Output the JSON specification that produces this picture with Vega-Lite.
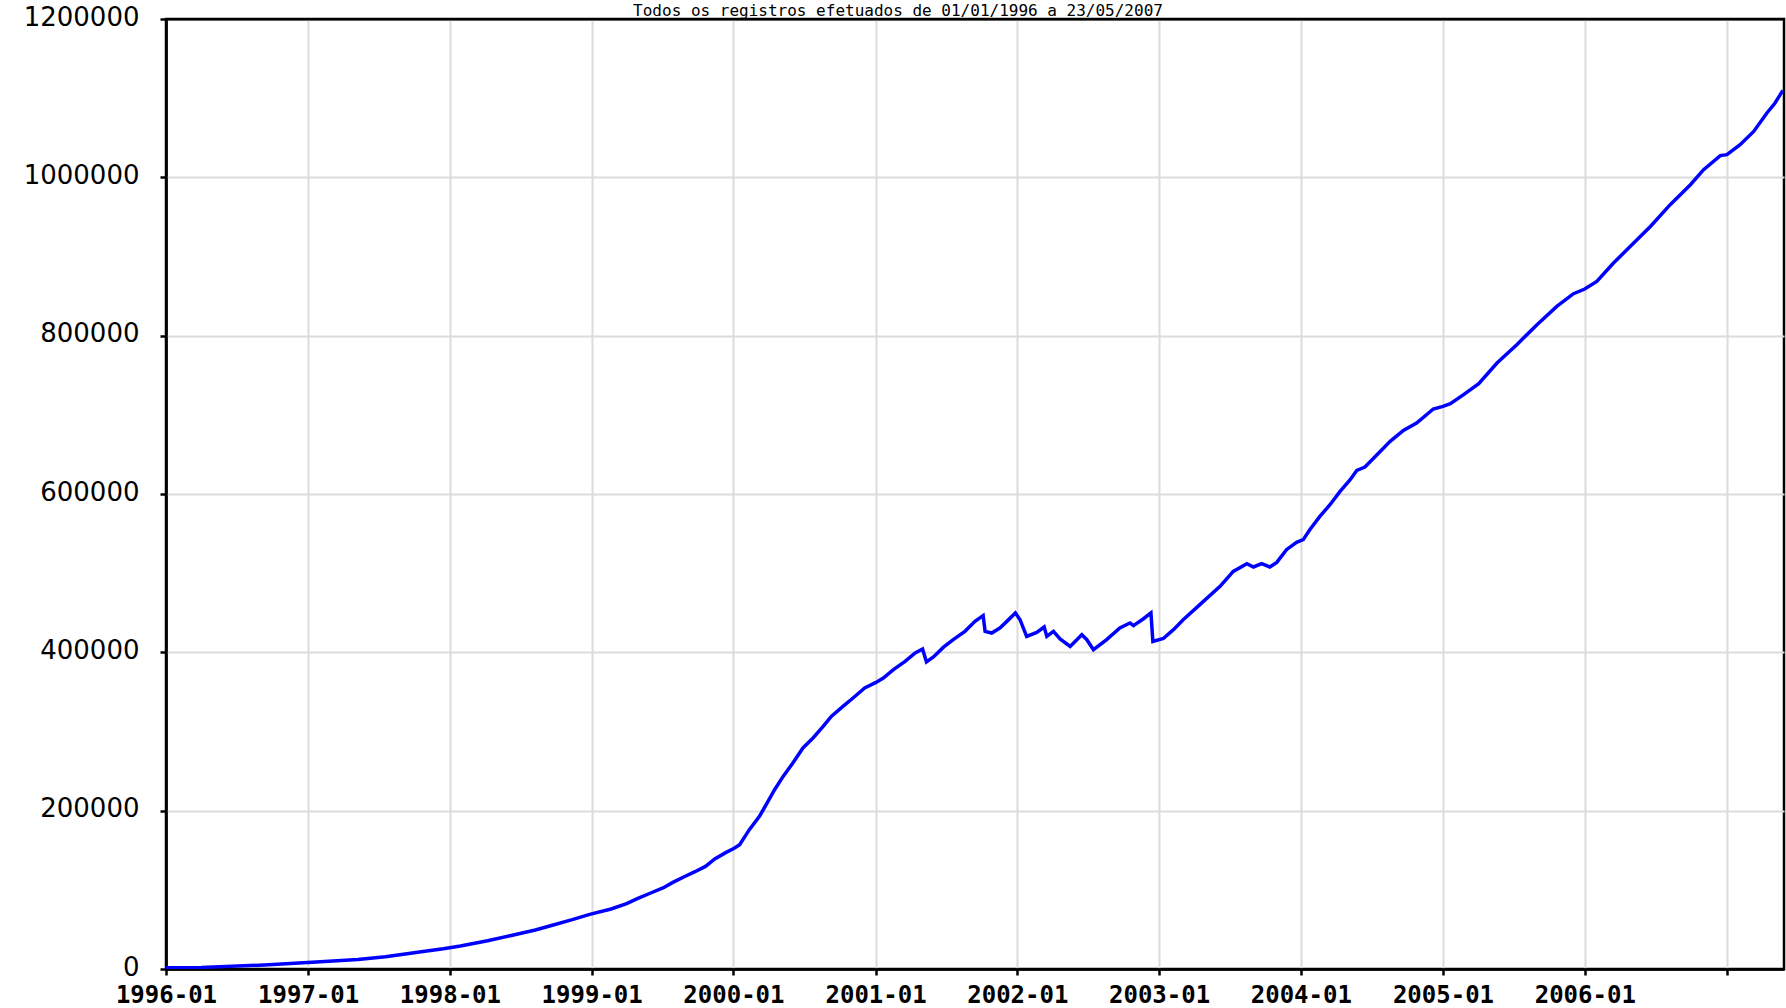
{
  "$schema": "https://vega.github.io/schema/vega-lite/v6.json",
  "width": 1618,
  "height": 950,
  "autosize": {"type": "none"},
  "padding": {"left": 166, "top": 19, "right": 2, "bottom": 39},
  "background": "white",
  "title": {
    "text": "Todos os registros efetuados de 01/01/1996 a 23/05/2007",
    "font": "DejaVu Sans Mono",
    "fontSize": 16,
    "fontWeight": "normal",
    "color": "black",
    "offset": -15,
    "frame": "group",
    "dx": -77,
    "anchor": "middle"
  },
  "config": {"view": {"stroke": "black", "strokeWidth": 2.5}},
  "data": {
    "values": [
      {"d": "1996-01-01", "v": 1500},
      {"d": "1996-04-01", "v": 2000},
      {"d": "1996-09-10", "v": 5000},
      {"d": "1997-01-22", "v": 8800},
      {"d": "1997-05-09", "v": 12100},
      {"d": "1997-07-19", "v": 15500},
      {"d": "1997-09-08", "v": 19000},
      {"d": "1997-10-24", "v": 22200},
      {"d": "1997-12-15", "v": 25600},
      {"d": "1998-01-28", "v": 29000},
      {"d": "1998-04-08", "v": 35700},
      {"d": "1998-06-08", "v": 42400},
      {"d": "1998-08-09", "v": 49300},
      {"d": "1998-09-24", "v": 55600},
      {"d": "1998-11-12", "v": 62300},
      {"d": "1998-12-27", "v": 69000},
      {"d": "1999-02-20", "v": 75800},
      {"d": "1999-04-01", "v": 82500},
      {"d": "1999-04-30", "v": 89200},
      {"d": "1999-06-02", "v": 96000},
      {"d": "1999-07-05", "v": 102700},
      {"d": "1999-07-29", "v": 109400},
      {"d": "1999-08-26", "v": 116200},
      {"d": "1999-09-24", "v": 122900},
      {"d": "1999-10-21", "v": 129600},
      {"d": "1999-11-14", "v": 139000},
      {"d": "1999-12-12", "v": 147000},
      {"d": "2000-01-03", "v": 152500},
      {"d": "2000-01-17", "v": 157000},
      {"d": "2000-02-11", "v": 176000},
      {"d": "2000-03-08", "v": 192800},
      {"d": "2000-03-30", "v": 211700},
      {"d": "2000-04-16", "v": 226500},
      {"d": "2000-05-08", "v": 243300},
      {"d": "2000-06-02", "v": 260200},
      {"d": "2000-06-28", "v": 279200},
      {"d": "2000-07-24", "v": 291800},
      {"d": "2000-08-19", "v": 306500},
      {"d": "2000-09-09", "v": 319100},
      {"d": "2000-10-09", "v": 331700},
      {"d": "2000-11-04", "v": 342300},
      {"d": "2000-12-04", "v": 355000},
      {"d": "2001-01-02", "v": 362000},
      {"d": "2001-01-21", "v": 367600},
      {"d": "2001-02-16", "v": 378100},
      {"d": "2001-03-18", "v": 388600},
      {"d": "2001-04-13", "v": 399200},
      {"d": "2001-05-02", "v": 404200},
      {"d": "2001-05-12", "v": 388000},
      {"d": "2001-05-30", "v": 394100},
      {"d": "2001-06-25", "v": 406500},
      {"d": "2001-07-20", "v": 416000},
      {"d": "2001-08-19", "v": 426500},
      {"d": "2001-09-14", "v": 439100},
      {"d": "2001-10-05", "v": 446300},
      {"d": "2001-10-10", "v": 426500},
      {"d": "2001-10-27", "v": 424400},
      {"d": "2001-11-17", "v": 430700},
      {"d": "2001-12-05", "v": 439100},
      {"d": "2001-12-27", "v": 449700},
      {"d": "2002-01-08", "v": 441200},
      {"d": "2002-01-25", "v": 420100},
      {"d": "2002-02-20", "v": 425200},
      {"d": "2002-03-11", "v": 432000},
      {"d": "2002-03-18", "v": 420100},
      {"d": "2002-04-04", "v": 426500},
      {"d": "2002-04-21", "v": 416900},
      {"d": "2002-05-17", "v": 407500},
      {"d": "2002-06-16", "v": 422300},
      {"d": "2002-06-29", "v": 416000},
      {"d": "2002-07-16", "v": 403400},
      {"d": "2002-08-19", "v": 416000},
      {"d": "2002-09-22", "v": 430700},
      {"d": "2002-10-18", "v": 437100},
      {"d": "2002-10-27", "v": 433700},
      {"d": "2002-11-21", "v": 442100},
      {"d": "2002-12-11", "v": 449700},
      {"d": "2002-12-16", "v": 413800},
      {"d": "2003-01-12", "v": 417500},
      {"d": "2003-02-07", "v": 428600},
      {"d": "2003-03-04", "v": 441200},
      {"d": "2003-04-16", "v": 460200},
      {"d": "2003-06-07", "v": 483300},
      {"d": "2003-07-11", "v": 502200},
      {"d": "2003-08-15", "v": 512000},
      {"d": "2003-09-01", "v": 507800},
      {"d": "2003-09-22", "v": 512000},
      {"d": "2003-10-13", "v": 507800},
      {"d": "2003-10-31", "v": 513600},
      {"d": "2003-11-25", "v": 529700},
      {"d": "2003-12-21", "v": 538900},
      {"d": "2004-01-07", "v": 542300},
      {"d": "2004-01-24", "v": 554900},
      {"d": "2004-02-19", "v": 571700},
      {"d": "2004-03-16", "v": 586500},
      {"d": "2004-04-11", "v": 603300},
      {"d": "2004-05-07", "v": 618100},
      {"d": "2004-05-24", "v": 629800},
      {"d": "2004-06-14", "v": 634100},
      {"d": "2004-07-15", "v": 649700},
      {"d": "2004-08-18", "v": 666500},
      {"d": "2004-09-21", "v": 680400},
      {"d": "2004-10-25", "v": 689700},
      {"d": "2004-12-07", "v": 707400},
      {"d": "2005-01-01", "v": 710700},
      {"d": "2005-01-20", "v": 714100},
      {"d": "2005-02-23", "v": 725500},
      {"d": "2005-04-03", "v": 739300},
      {"d": "2005-05-20", "v": 765500},
      {"d": "2005-07-10", "v": 788600},
      {"d": "2005-08-31", "v": 813900},
      {"d": "2005-10-21", "v": 837000},
      {"d": "2005-12-03", "v": 853000},
      {"d": "2006-01-01", "v": 858900},
      {"d": "2006-02-01", "v": 868600},
      {"d": "2006-03-16", "v": 891800},
      {"d": "2006-05-07", "v": 917000},
      {"d": "2006-06-19", "v": 938000},
      {"d": "2006-08-09", "v": 965500},
      {"d": "2006-09-30", "v": 990700},
      {"d": "2006-11-03", "v": 1009700},
      {"d": "2006-12-16", "v": 1027400},
      {"d": "2007-01-02", "v": 1028600},
      {"d": "2007-02-05", "v": 1041200},
      {"d": "2007-03-12", "v": 1058000},
      {"d": "2007-04-15", "v": 1081300},
      {"d": "2007-05-06", "v": 1093900},
      {"d": "2007-05-26", "v": 1109800}
    ]
  },
  "mark": {"type": "line", "color": "#0000ff", "strokeWidth": 3.5, "clip": true},
  "encoding": {
    "x": {
      "field": "d",
      "type": "temporal",
      "scale": {
        "type": "utc",
        "domain": [
          {"year": 1996, "month": 1, "date": 1, "utc": true},
          {"year": 2007, "month": 5, "date": 29, "utc": true}
        ]
      },
      "axis": {
        "title": null,
        "values": [
          {"year": 1996, "month": 1, "date": 1, "utc": true},
          {"year": 1997, "month": 1, "date": 1, "utc": true},
          {"year": 1998, "month": 1, "date": 1, "utc": true},
          {"year": 1999, "month": 1, "date": 1, "utc": true},
          {"year": 2000, "month": 1, "date": 1, "utc": true},
          {"year": 2001, "month": 1, "date": 1, "utc": true},
          {"year": 2002, "month": 1, "date": 1, "utc": true},
          {"year": 2003, "month": 1, "date": 1, "utc": true},
          {"year": 2004, "month": 1, "date": 1, "utc": true},
          {"year": 2005, "month": 1, "date": 1, "utc": true},
          {"year": 2006, "month": 1, "date": 1, "utc": true},
          {"year": 2007, "month": 1, "date": 1, "utc": true}
        ],
        "labelExpr": "utcyear(datum.value) == 2007 ? '' : utcFormat(datum.value, '%Y-%m')",
        "domainColor": "black",
        "domainWidth": 2.5,
        "tickColor": "black",
        "tickWidth": 2.5,
        "tickSize": 6,
        "grid": true,
        "gridColor": {"condition": {"test": "utcyear(datum.value) == 1996", "value": "black"}, "value": "#dcdcdc"},
        "gridWidth": 2,
        "gridOpacity": 1,
        "labelFont": "DejaVu Sans Mono",
        "labelFontWeight": "bold",
        "labelFontSize": 24,
        "labelColor": "black",
        "labelPadding": 8,
        "labelDx": 11,
        "labelFlush": false,
        "labelOverlap": false
      }
    },
    "y": {
      "field": "v",
      "type": "quantitative",
      "scale": {"domain": [0, 1200000], "nice": false},
      "axis": {
        "title": null,
        "values": [0, 200000, 400000, 600000, 800000, 1000000, 1200000],
        "format": "d",
        "domainColor": "black",
        "domainWidth": 2.5,
        "tickColor": "black",
        "tickWidth": 2.5,
        "tickSize": 6,
        "grid": true,
        "gridColor": {"condition": {"test": "datum.value == 1200000 || datum.value == 0", "value": "black"}, "value": "#dcdcdc"},
        "gridWidth": 2,
        "gridOpacity": 1,
        "labelFont": "DejaVu Sans",
        "labelFontSize": 26,
        "labelColor": "black",
        "labelPadding": 21,
        "labelOffset": -2,
        "labelFlush": false,
        "labelOverlap": false
      }
    }
  }
}
